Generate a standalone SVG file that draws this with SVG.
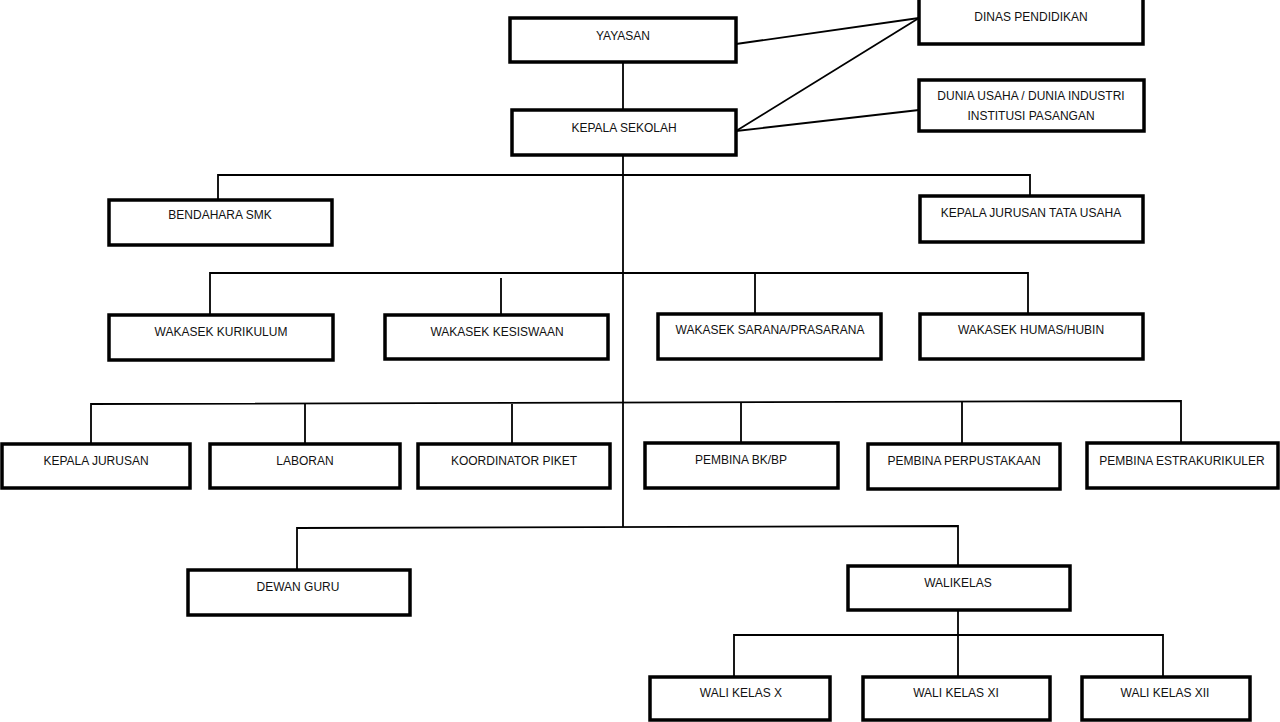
<svg xmlns="http://www.w3.org/2000/svg" width="1280" height="722" viewBox="0 0 1280 722">
<style>
.box{fill:#fff;stroke:#000;stroke-width:3.5}
.t{font-family:"Liberation Sans",Arial,sans-serif;font-size:12px;fill:#111;text-anchor:middle}
.c{fill:none;stroke:#000;stroke-width:1.8}
</style>
<rect width="1280" height="722" fill="#fff"/>
<g id="connectors">
<line class="c" x1="736" y1="44" x2="919" y2="18"/>
<line class="c" x1="736" y1="131" x2="919" y2="18"/>
<line class="c" x1="736" y1="131" x2="919" y2="110"/>
<line class="c" x1="623" y1="62" x2="623" y2="110"/>
<line class="c" x1="623" y1="155" x2="623" y2="527"/>
<polyline class="c" points="218,200 218,175 1030,175 1030,196"/>
<polyline class="c" points="210,315 210,273 1028,273 1028,314"/>
<line class="c" x1="501" y1="278" x2="501" y2="315"/>
<line class="c" x1="755" y1="273" x2="755" y2="314"/>
<polyline class="c" points="91,443 91,404 1181,401 1181,443"/>
<line class="c" x1="305" y1="404" x2="305" y2="443"/>
<line class="c" x1="512" y1="404" x2="512" y2="443"/>
<line class="c" x1="741" y1="403" x2="741" y2="443"/>
<line class="c" x1="962" y1="402" x2="962" y2="443"/>
<polyline class="c" points="297,570 297,528 958,526 958,566"/>
<line class="c" x1="958" y1="610" x2="958" y2="677"/>
<polyline class="c" points="734,677 734,635 1163,635 1163,677"/>
</g>
<g id="yayasan"><rect class="box" x="510" y="18" width="226" height="44"/><text class="t" x="623" y="40">YAYASAN</text></g>
<g id="kepala-sekolah"><rect class="box" x="512" y="110" width="224" height="45"/><text class="t" x="624" y="132">KEPALA SEKOLAH</text></g>
<g id="dinas-pendidikan"><rect class="box" x="919" y="-2" width="224" height="46"/><text class="t" x="1031" y="21">DINAS PENDIDIKAN</text></g>
<g id="dunia-usaha"><rect class="box" x="919" y="80" width="225" height="51"/><text class="t" x="1031" y="100">DUNIA USAHA / DUNIA INDUSTRI</text><text class="t" x="1031" y="120">INSTITUSI PASANGAN</text></g>
<g id="bendahara"><rect class="box" x="109" y="200" width="223" height="45"/><text class="t" x="220" y="219">BENDAHARA SMK</text></g>
<g id="kajur-tu"><rect class="box" x="920" y="196" width="223" height="46"/><text class="t" x="1031" y="217">KEPALA JURUSAN TATA USAHA</text></g>
<g id="wakasek-kurikulum"><rect class="box" x="109" y="315" width="224" height="45"/><text class="t" x="221" y="336">WAKASEK KURIKULUM</text></g>
<g id="wakasek-kesiswaan"><rect class="box" x="385" y="315" width="223" height="44"/><text class="t" x="497" y="336">WAKASEK KESISWAAN</text></g>
<g id="wakasek-sarana"><rect class="box" x="658" y="314" width="223" height="45"/><text class="t" x="770" y="334">WAKASEK SARANA/PRASARANA</text></g>
<g id="wakasek-humas"><rect class="box" x="920" y="314" width="223" height="45"/><text class="t" x="1031" y="334">WAKASEK HUMAS/HUBIN</text></g>
<g id="kepala-jurusan"><rect class="box" x="2" y="444" width="188" height="44"/><text class="t" x="96" y="465">KEPALA JURUSAN</text></g>
<g id="laboran"><rect class="box" x="210" y="444" width="190" height="44"/><text class="t" x="305" y="465">LABORAN</text></g>
<g id="koordinator-piket"><rect class="box" x="418" y="444" width="192" height="44"/><text class="t" x="514" y="465">KOORDINATOR PIKET</text></g>
<g id="pembina-bk"><rect class="box" x="645" y="443" width="193" height="45"/><text class="t" x="741" y="464">PEMBINA BK/BP</text></g>
<g id="pembina-perpustakaan"><rect class="box" x="868" y="444" width="192" height="45"/><text class="t" x="964" y="465">PEMBINA PERPUSTAKAAN</text></g>
<g id="pembina-estrakurikuler"><rect class="box" x="1087" y="443" width="191" height="45"/><text class="t" x="1182" y="465">PEMBINA ESTRAKURIKULER</text></g>
<g id="dewan-guru"><rect class="box" x="188" y="570" width="222" height="45"/><text class="t" x="298" y="591">DEWAN GURU</text></g>
<g id="walikelas"><rect class="box" x="848" y="566" width="222" height="44"/><text class="t" x="958" y="587">WALIKELAS</text></g>
<g id="wali-x"><rect class="box" x="650" y="677" width="180" height="43"/><text class="t" x="741" y="697">WALI KELAS X</text></g>
<g id="wali-xi"><rect class="box" x="863" y="677" width="187" height="43"/><text class="t" x="956" y="697">WALI KELAS XI</text></g>
<g id="wali-xii"><rect class="box" x="1082" y="677" width="168" height="43"/><text class="t" x="1165" y="697">WALI KELAS XII</text></g>
</svg>
